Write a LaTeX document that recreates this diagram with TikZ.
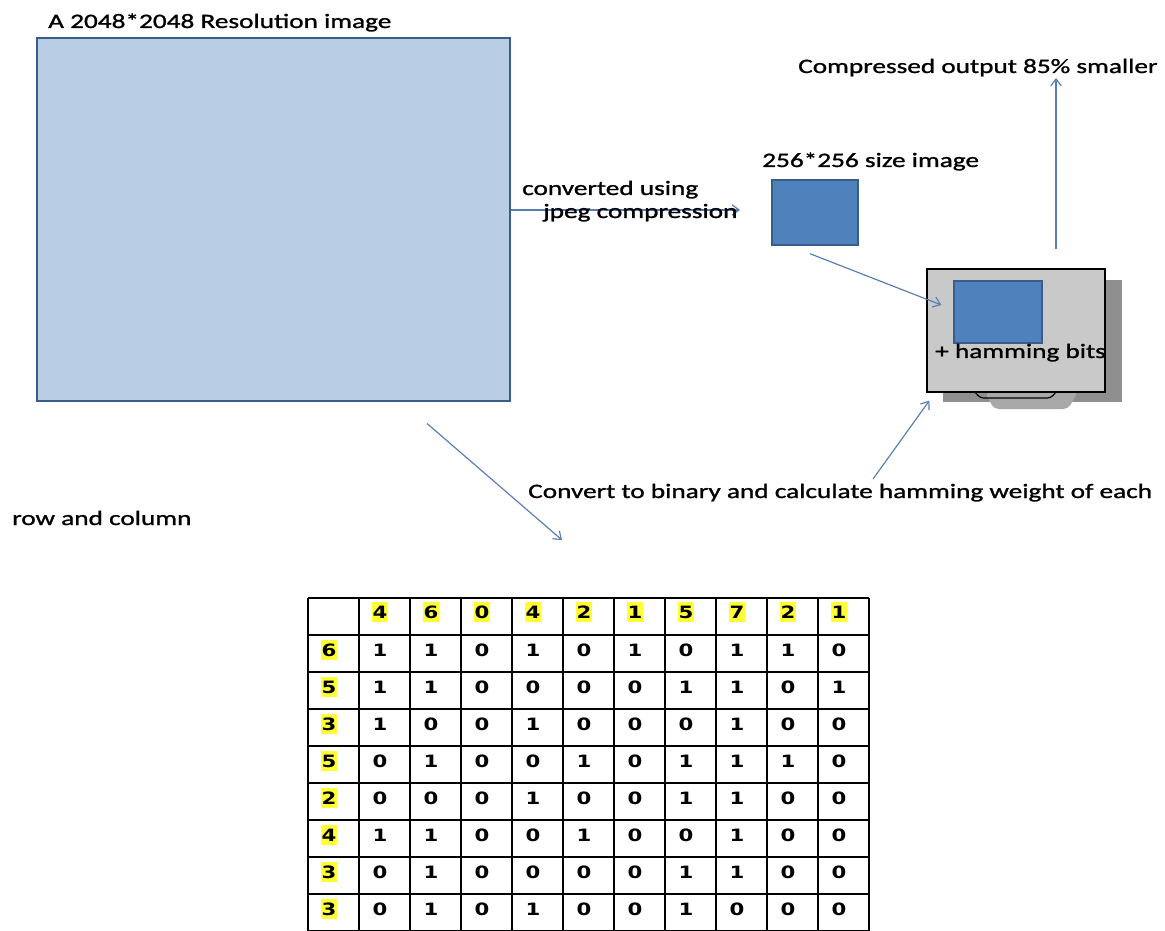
\documentclass[tikz,border=0pt]{standalone}
\usepackage{fontspec}
\setmainfont{Carlito}[FakeStretch=1.33,FakeBold=1.2]
\newfontfamily\tblfont{DejaVu Sans}[FakeStretch=1.25]
\usepackage{tikz}
\usetikzlibrary{arrows.meta,positioning}

\definecolor{lightfill}{HTML}{B9CDE5}
\definecolor{darkedge}{HTML}{385D8A}
\definecolor{midblue}{HTML}{4F81BD}
\definecolor{flowblue}{HTML}{5A7DB4}
\definecolor{devgray}{HTML}{C9C9C9}
\definecolor{shadowgray}{HTML}{8F8F8F}
\definecolor{standgray}{HTML}{A8A8A8}
\definecolor{hilite}{HTML}{FFFF33}

\tikzset{
	lbl/.style={font=\fontsize{17.5}{20}\selectfont,inner sep=0pt,anchor=base west},
	flow/.style={draw=flowblue,line width=1pt,-{Straight Barb[length=6pt,width=9pt]}},
	tblline/.style={line width=1.1pt,black},
	hdr/.style={font=\tblfont\bfseries\fontsize{14.5}{16}\selectfont,fill=hilite,inner sep=0pt,minimum width=0.5cm,minimum height=0.6cm},
	bit/.style={font=\tblfont\bfseries\fontsize{14.5}{16}\selectfont,inner sep=0pt}
}

\begin{document}
\begin{tikzpicture}[x=0.03cm,y=-0.03cm]
	\useasboundingbox[fill=white] (0,0) rectangle (1165,931);
	\clip (0,0) rectangle (1165,931);
	% large image
	\node[draw=darkedge,fill=lightfill,line width=2.5pt,minimum width=14.19cm,minimum height=10.89cm] (bigimg) at (273.5,219.5) {};
	\node[lbl] (bigtitle) at (48,28) {A 2048*2048 Resolution image};
	% jpeg step
	\node[draw=darkedge,fill=midblue,line width=1.2pt,minimum width=2.58cm,minimum height=1.95cm] (smallimg) at (815,212.5) {};
	\node[lbl] (smalltitle) at (762,167) {256*256 size image};
	\coordinate (jpegtip) at (740,210);
	\draw[flow] (bigimg.east |- jpegtip) -- (jpegtip);
	\node[lbl] (convtxt) at (522,195) {converted using};
	\node[lbl] (jpegtxt) at (543,218) {jpeg compression};
	% device with hamming bits
	\node[fill=shadowgray,minimum width=5.37cm,minimum height=3.66cm] (devshadow) at (1032.5,341) {};
	\fill[standgray,rounded corners=4] (985,392) -- (994,409) -- (1068,409) -- (1078,392) -- cycle;
	\node[draw=black,fill=devgray,line width=1pt,minimum width=5.34cm,minimum height=3.69cm] (device) at (1016,330.5) {};
	\draw[line width=1pt,rounded corners=3] (975,392) -- (980,398) -- (1051,398) -- (1056,392);
	\node[draw=darkedge,fill=midblue,line width=1pt,minimum width=2.64cm,minimum height=1.86cm] (devimg) at (998,312) {};
	\node[lbl] (hamtxt) at (935,358) {+ hamming bits};
	\draw[flow] ([shift={(-5,8)}]smallimg.south) -- ([shift={(15,-25.5)}]device.west);
	% output
	\node[lbl] (outtxt) at (798,73) {Compressed output 85\% smaller};
	\coordinate (outtip) at (1056,78);
	\draw[flow,shorten <=0.57cm] (device.north -| outtip) -- (outtip);
	% binary conversion
	\node[lbl] (bintxt) at (528,498) {Convert to binary and calculate hamming weight of each};
	\node[lbl] (rowtxt) at (12,525) {row and column};
	\coordinate (binfrom) at (873,479);
	\draw[flow] (binfrom) -- ([shift={(3,8)}]device.south west);
	\coordinate (tbltip) at (562,540);
	\draw[flow] ([shift={(153.5,21)}]bigimg.south) -- (tbltip);
	% weight table
	\foreach \c in {0,...,11}
		\draw[tblline] ({308+51*\c},598) -- ({308+51*\c},940);
	\foreach \r in {0,...,9}
		\draw[tblline] (308,{598+37*\r}) -- (869,{598+37*\r});
	\foreach \v [count=\c] in {4,6,0,4,2,1,5,7,2,1}
		\node[hdr] (h\c) at ({308+51*\c+21},612) {\v};
	\foreach \w [count=\r] in {6,5,3,5,2,4,3,3}
		\node[hdr] (w\r) at (329,{598+37*\r+15}) {\w};
	\foreach \bits [count=\r] in {{1,1,0,1,0,1,0,1,1,0},{1,1,0,0,0,0,1,1,0,1},{1,0,0,1,0,0,0,1,0,0},{0,1,0,0,1,0,1,1,1,0},{0,0,0,1,0,0,1,1,0,0},{1,1,0,0,1,0,0,1,0,0},{0,1,0,0,0,0,1,1,0,0},{0,1,0,1,0,0,1,0,0,0}}
		\foreach \b [count=\c] in \bits
			\node[bit] (b\r-\c) at ({308+51*\c+21},{598+37*\r+15}) {\b};
\end{tikzpicture}
\end{document}
